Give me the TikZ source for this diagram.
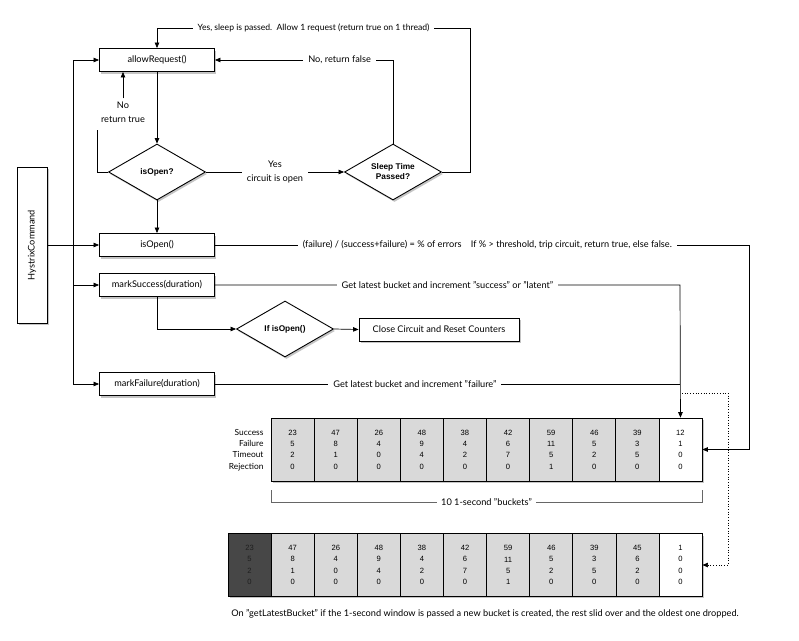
\documentclass[tikz,border=0pt]{standalone}
\usepackage{fontspec}
\setmainfont{Lato}
\newfontfamily\helv{Liberation Sans}
\usetikzlibrary{shapes.geometric,shadows,arrows.meta}

\begin{document}
\begin{tikzpicture}
        [x=1pt, y=-1pt, font=\fontsize{9.2}{13.5}\selectfont,
        arr/.style={-{Triangle[length=5.5pt,width=4.5pt]}},
        edge/.style={line width=0.7pt, black},
        shade/.style={drop shadow={shadow xshift=1.5pt, shadow yshift=-2pt, fill=black!45}},
        func/.style={draw, line width=0.9pt, fill=white, shade, minimum width=115pt, minimum height=23pt},
        decision/.style={diamond, draw, line width=0.9pt, fill=white, shade, aspect=1.7, inner sep=0pt,
            minimum width=97pt, minimum height=56pt, align=center, font=\helv\bfseries\fontsize{8.3}{10}\selectfont},
        lbl/.style={fill=white, align=center, inner sep=5pt},
        cell/.style={draw, line width=0.7pt, fill=black!15, minimum width=43.1pt, minimum height=63pt,
            align=center, inner sep=0pt, font=\helv\fontsize{7.6}{11.3}\selectfont}]

        \useasboundingbox (0,0) rectangle (799,640);

        % command and its methods
        \node[func, rotate=90, minimum width=156pt, minimum height=30pt] (hystrix) at (32,245) {HystrixCommand};
        \node[func] (allow) at (157,60) {allowRequest()};
        \node[func] (isOpenF) at (157,245) {isOpen()};
        \node[func] (mkSuccess) at (157,285) {markSuccess(duration)};
        \node[func] (mkFailure) at (157,384) {markFailure(duration)};
        \node[func, minimum width=160pt] (close) at (439,329.5) {Close Circuit and Reset Counters};

        % decisions
        \node[decision] (isOpenD) at (157,172) {isOpen?};
        \node[decision] (sleep) at (393,172) {Sleep Time\\Passed?};
        \node[decision] (ifOpen) at (285,329) {If isOpen()};

        \node[align=center] (noLbl) at (123,112) {No\\return true};

        % spine on the left
        \coordinate (spineTop) at (73,60);
        \coordinate (spineBot) at (73,384);
        \draw[edge] (spineTop) -- (spineBot);
        \draw[edge, arr] (spineTop) -- (allow.west);
        \draw[edge, arr] (spineTop |- mkSuccess.west) -- (mkSuccess.west);
        \draw[edge, arr] (spineBot) -- (mkFailure.west);
        \draw[edge, arr] (hystrix.south) -- (isOpenF.west);

        % allowRequest flow
        \draw[edge, arr] (allow.south) -- (isOpenD.north);
        \draw[edge, arr] (isOpenD.south) -- (isOpenF.north);
        \draw[edge] (isOpenD.west) -| (97,130);
        \draw[edge, arr] (noLbl.north) -- (noLbl.north |- allow.south);
        \draw[edge, arr] (isOpenD.east) -- node[lbl] {Yes\\circuit is open} (sleep.west);
        \draw[edge, arr] (sleep.north) |- node[lbl, pos=0.65] {No, return false} (allow.east);
        \draw[edge, arr] (sleep.east) -| (470,28)
            -| node[lbl, pos=0.25, font=\fontsize{8.6}{10}\selectfont] {Yes, sleep is passed.\ \ Allow 1 request (return true on 1 thread)} (allow.north);

        % buckets (current window)
        \draw[line width=0.7pt, fill=white, shade] (271,418) rectangle (702,481);
        \foreach \s/\f/\t/\r [count=\i] in {23/5/2/0, 47/8/1/0, 26/4/0/0, 48/9/4/0, 38/4/2/0,
            42/6/7/0, 59/11/5/1, 46/5/2/0, 39/3/5/0}
            \node[cell] (b\i) at ({271+43.1*(\i-0.5)},449.5) {\s\\\f\\\t\\\r};
        \node[cell, fill=white] (b10) at ({271+43.1*9.5},449.5) {12\\1\\0\\0};
        \node[align=right, anchor=east, font=\fontsize{8.4}{11.3}\selectfont] (rowNames) at (267,450)
            {Success\\Failure\\Timeout\\Rejection};

        \draw[draw=black!60, line width=0.5pt] (271,490) -- (271,502)
            -- node[lbl, text=black, inner sep=4pt] {10 1-second "buckets"} (702,502) -- (702,490);

        % buckets (after a new one is created)
        \draw[line width=0.7pt, fill=white, shade] (228,534) rectangle (702,596);
        \node[cell, fill=black!72, text=black!88] (c0) at ({228+43.1*0.5},565) {23\\5\\2\\0};
        \foreach \s/\f/\t/\r [count=\i] in {47/8/1/0, 26/4/0/0, 48/9/4/0, 38/4/2/0, 42/6/7/0,
            59/11/5/1, 46/5/2/0, 39/3/5/0, 45/6/2/0}
            \node[cell] (c\i) at ({228+43.1*(\i+0.5)},565) {\s\\\f\\\t\\\r};
        \node[cell, fill=white] (c10) at ({228+43.1*10.5},565) {1\\0\\0\\0};

        \node (note) at (485,614) {On "getLatestBucket" if the 1-second window is passed a new bucket is created, the rest slid over and the oldest one dropped.};

        % methods into buckets
        \draw[edge, arr] (isOpenF.east) -- node[lbl, pos=0.51]
            {(failure) / (success+failure) = \% of errors\quad If \% > threshold, trip circuit, return true, else false.}
            (749,245) |- (b10.east);
        \draw[edge, arr] (mkSuccess.east) -- node[lbl] {Get latest bucket and increment "success" or "latent"}
            (680,285) -- (b10.north);
        \draw[edge] (mkFailure.east) -- node[lbl, pos=0.43] {Get latest bucket and increment "failure"} (680,384);
        \draw[edge, arr, dotted] (682,393) -- (728,393) |- (c10.east);

        % markSuccess closes the circuit
        \draw[edge, arr] (mkSuccess.south) |- (ifOpen.west);
        \draw[edge, arr] (ifOpen.east) -- (close.west);

    \end{tikzpicture}
\end{document}
